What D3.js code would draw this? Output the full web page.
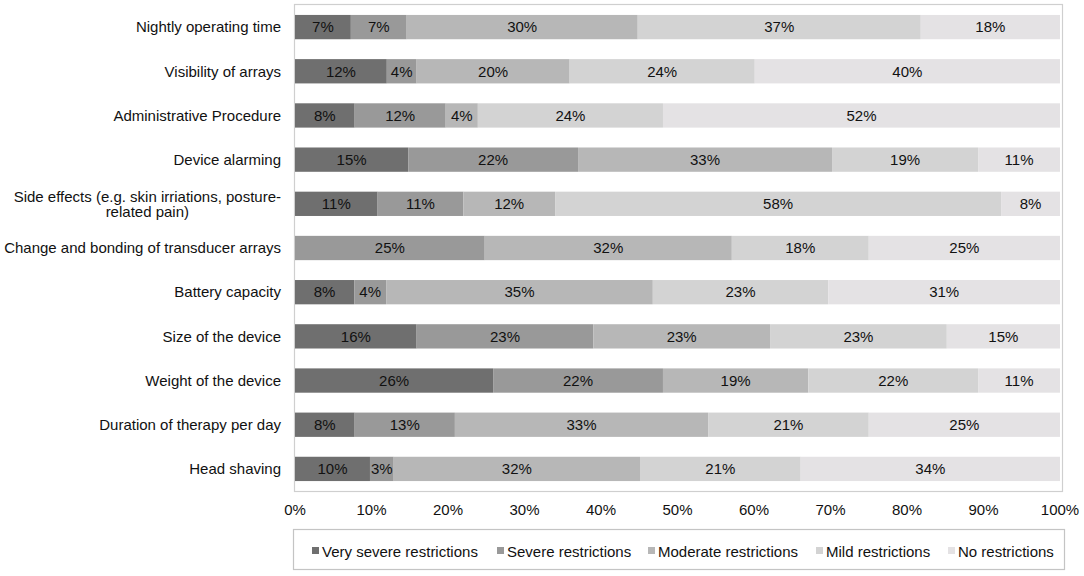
<!DOCTYPE html>
<html>
<head>
<meta charset="utf-8">
<script src="https://cdn.jsdelivr.net/npm/d3@7"></script>
<style>
  html, body { margin: 0; padding: 0; background: #fff; }
  svg { display: block; font-family: "Liberation Sans", Arial, sans-serif; }
</style>
</head>
<body>
<svg id="chart" width="1084" height="576"></svg>
<script>
// ---- data ----
const categories = [
  "Nightly operating time",
  "Visibility of arrays",
  "Administrative Procedure",
  "Device alarming",
  "Side effects (e.g. skin irriations, posture-|related pain)",
  "Change and bonding of transducer arrays",
  "Battery capacity",
  "Size of the device",
  "Weight of the device",
  "Duration of therapy per day",
  "Head shaving"
];
const seriesNames = ["Very severe restrictions", "Severe restrictions", "Moderate restrictions", "Mild restrictions", "No restrictions"];
const verySevere = [7.3, 12.0, 7.8, 14.8, 10.8, 0, 7.8, 15.9, 25.9, 7.8, 9.8];
const severe     = [7.3, 3.9, 11.9, 22.2, 11.2, 24.8, 4.2, 23.1, 22.2, 13.1, 3.1];
const moderate   = [30.2, 20.0, 4.2, 33.2, 12.0, 32.3, 35.1, 23.1, 19.0, 33.1, 32.2];
const mild       = [37.0, 24.2, 24.2, 19.1, 58.3, 17.9, 23.1, 23.1, 22.2, 21.0, 21.0];
const none       = [18.2, 39.9, 51.9, 10.7, 7.7, 25.0, 30.5, 14.8, 10.7, 25.0, 33.9];
const xTicks = [0, 10, 20, 30, 40, 50, 60, 70, 80, 90, 100];
const colors = ["#6f6f6f", "#999999", "#b7b7b7", "#d3d3d3", "#e4e2e4"];

const seriesValues = [verySevere, severe, moderate, mild, none];
const FS = 15;

// ---- layout ----
const svg = d3.select("#chart");
const frame = { left: 294, right: 1062, top: 4, bottom: 491 };

const x = d3.scaleLinear().domain([0, 100]).range([295, 1060]);
const y = d3.scaleBand().domain(categories).range([5, 491]).paddingInner(0.45).paddingOuter(0.225);

// frame
svg.append("rect")
  .attr("x", frame.left + 0.5).attr("y", frame.top + 0.5)
  .attr("width", frame.right - frame.left).attr("height", frame.bottom - frame.top)
  .attr("fill", "none").attr("stroke", "#cfcfcf").attr("stroke-width", 1.2);

// build stacked rows (normalized per row)
const rows = categories.map((c, i) => {
  const vals = seriesValues.map(s => s[i]);
  const total = d3.sum(vals);
  let acc = 0;
  return vals.map((v, k) => {
    const seg = { cat: c, k, v, x0: acc / total * 100, x1: (acc + v) / total * 100 };
    acc += v;
    return seg;
  });
});
const segs = rows.flat().filter(d => d.v > 0);

const g = svg.append("g");
g.selectAll("rect.seg").data(segs).join("rect")
  .attr("class", "seg")
  .attr("x", d => x(d.x0))
  .attr("y", d => y(d.cat))
  .attr("width", d => x(d.x1) - x(d.x0))
  .attr("height", y.bandwidth())
  .attr("fill", d => colors[d.k]);

g.selectAll("text.lbl").data(segs).join("text")
  .attr("class", "lbl")
  .attr("x", d => (x(d.x0) + x(d.x1)) / 2)
  .attr("y", d => y(d.cat) + y.bandwidth() / 2)
  .attr("dy", "0.35em")
  .attr("text-anchor", "middle")
  .attr("font-size", FS)
  .attr("fill", "#111")
  .text(d => Math.round(d.v) + "%");

// y-axis labels
const yLab = svg.append("g");
categories.forEach(c => {
  const lines = c.split("|");
  const cy = y(c) + y.bandwidth() / 2;
  const t = yLab.append("text")
    .attr("font-size", FS).attr("fill", "#111")
    .attr("text-anchor", "middle");
  const lh = 15;
  const spans = lines.map((ln, j) => t.append("tspan")
    .attr("y", cy + (j - (lines.length - 1) / 2) * lh)
    .attr("dy", "0.35em")
    .text(ln));
  const widths = spans.map(s => s.node().getComputedTextLength());
  const maxW = d3.max(widths);
  const right = 281;
  spans.forEach(s => s.attr("x", right - maxW / 2));
});

// x-axis tick labels
svg.append("g").selectAll("text").data(xTicks).join("text")
  .attr("x", d => x(d))
  .attr("y", 510)
  .attr("dy", "0.35em")
  .attr("text-anchor", "middle")
  .attr("font-size", FS)
  .attr("fill", "#111")
  .text(d => d + "%");

// legend
const leg = svg.append("g");
leg.append("rect")
  .attr("x", 293.5).attr("y", 529.5).attr("width", 771).attr("height", 40)
  .attr("fill", "none").attr("stroke", "#c4c4c4").attr("stroke-width", 1.2);
const legX = [312, 497, 648, 816, 948];
seriesNames.forEach((n, k) => {
  leg.append("rect")
    .attr("x", legX[k]).attr("y", 547).attr("width", 7).attr("height", 7)
    .attr("fill", colors[k]);
  leg.append("text")
    .attr("x", legX[k] + 10).attr("y", 552).attr("dy", "0.35em")
    .attr("font-size", FS).attr("fill", "#111")
    .text(n);
});
</script>
</body>
</html>
